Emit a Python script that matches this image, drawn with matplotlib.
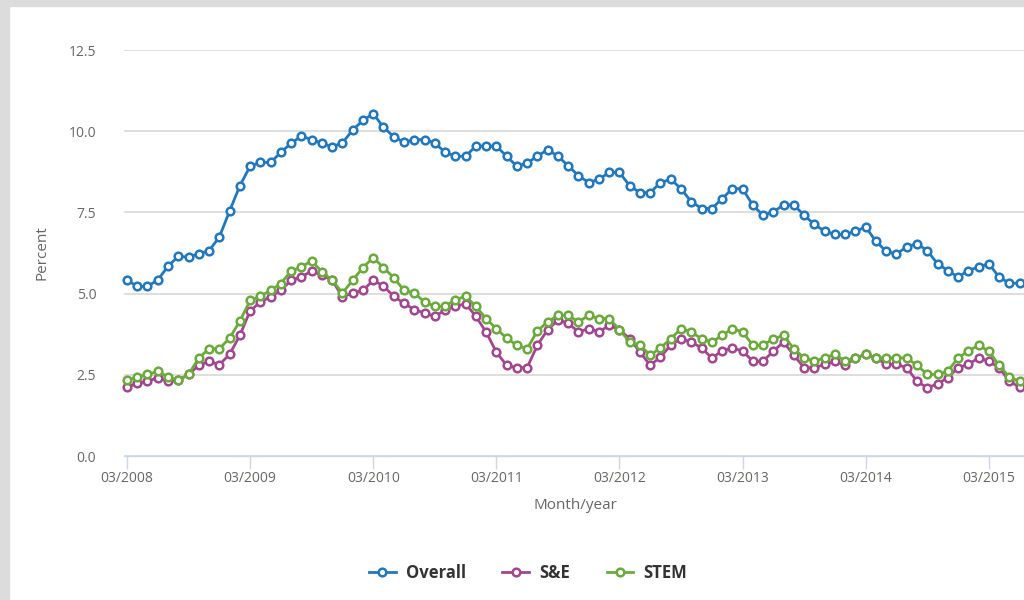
import matplotlib
matplotlib.use("Agg")
from matplotlib import pyplot as plt
from matplotlib.patches import Rectangle

# monthly values, 03/2008 .. 06/2015
overall = [5.42, 5.22, 5.22, 5.42, 5.84, 6.15, 6.12, 6.23, 6.32, 6.74,
           7.54, 8.32, 8.92, 9.04, 9.04, 9.35, 9.63, 9.85, 9.74, 9.63,
           9.52, 9.64, 10.04, 10.33, 10.54, 10.12, 9.83, 9.66, 9.74, 9.74,
           9.64, 9.35, 9.23, 9.23, 9.54, 9.54, 9.54, 9.23, 8.92, 9.02,
           9.23, 9.43, 9.23, 8.94, 8.63, 8.42, 8.52, 8.73, 8.73, 8.32,
           8.11, 8.11, 8.42, 8.52, 8.23, 7.83, 7.62, 7.62, 7.92, 8.23,
           8.23, 7.72, 7.41, 7.52, 7.73, 7.73, 7.41, 7.13, 6.92, 6.82,
           6.82, 6.92, 7.05, 6.61, 6.30, 6.22, 6.44, 6.54, 6.32, 5.92,
           5.71, 5.51, 5.71, 5.82, 5.92, 5.51, 5.32, 5.32]
s_and_e = [2.12, 2.24, 2.30, 2.41, 2.30, 2.33, 2.51, 2.79, 2.92, 2.81,
           3.13, 3.71, 4.47, 4.74, 4.90, 5.10, 5.41, 5.51, 5.70, 5.57,
           5.41, 4.90, 5.02, 5.10, 5.41, 5.23, 4.92, 4.70, 4.51, 4.40,
           4.30, 4.49, 4.61, 4.69, 4.30, 3.82, 3.20, 2.79, 2.72, 2.72,
           3.41, 3.89, 4.18, 4.09, 3.82, 3.92, 3.82, 4.02, 3.89, 3.61,
           3.20, 2.79, 3.05, 3.41, 3.61, 3.51, 3.33, 3.02, 3.23, 3.33,
           3.23, 2.92, 2.92, 3.23, 3.51, 3.10, 2.72, 2.72, 2.82, 2.92,
           2.79, 3.02, 3.13, 3.02, 2.82, 2.82, 2.72, 2.30, 2.10, 2.22,
           2.41, 2.72, 2.82, 3.02, 2.92, 2.72, 2.30, 2.12]
stem = [2.33, 2.43, 2.51, 2.61, 2.43, 2.33, 2.51, 3.02, 3.30, 3.30,
        3.63, 4.15, 4.79, 4.92, 5.10, 5.31, 5.70, 5.82, 6.01, 5.67,
        5.41, 5.02, 5.41, 5.80, 6.11, 5.80, 5.49, 5.10, 5.02, 4.74,
        4.61, 4.61, 4.81, 4.92, 4.61, 4.23, 3.92, 3.63, 3.41, 3.30,
        3.85, 4.13, 4.33, 4.33, 4.13, 4.33, 4.23, 4.23, 3.89, 3.51,
        3.41, 3.10, 3.33, 3.61, 3.92, 3.82, 3.61, 3.51, 3.71, 3.92,
        3.82, 3.41, 3.41, 3.61, 3.71, 3.30, 3.02, 2.92, 3.02, 3.13,
        2.92, 3.02, 3.13, 3.02, 3.02, 3.02, 3.02, 2.79, 2.51, 2.51,
        2.61, 3.02, 3.23, 3.41, 3.23, 2.79, 2.43, 2.30]

tick_pos = [0, 12, 24, 36, 48, 60, 72, 84]
tick_labels = ["03/2008", "03/2009", "03/2010", "03/2011",
               "03/2012", "03/2013", "03/2014", "03/2015"]
y_ticks = [0.0, 2.5, 5.0, 7.5, 10.0, 12.5]

series = [("Overall", overall, "#1f78c1"),
          ("S&E", s_and_e, "#a4468f"),
          ("STEM", stem, "#6aab3b")]

plt.rcParams['font.family'] = ['Open Sans', 'DejaVu Sans']

fig = plt.figure(figsize=(10.24, 6), dpi=100)
fig.set_facecolor('white')

# grey frame of the screenshot
fig.patches.append(Rectangle((0, 0), 9 / 1024, 1, transform=fig.transFigure,
                             color='#dcdcdc', zorder=0))
fig.patches.append(Rectangle((0, 1 - 6 / 600), 1, 6 / 600, transform=fig.transFigure,
                             color='#dcdcdc', zorder=0))

ax = fig.add_axes([124 / 1024, 144 / 600, 900 / 1024, 406 / 600])
ax.set_facecolor('none')

x = list(range(len(overall)))
for name, vals, col in series:
    ax.plot(x, vals, color=col, linewidth=2, marker='o', markersize=5.5,
            markerfacecolor='white', markeredgecolor=col, markeredgewidth=1.8,
            label=name, clip_on=False, zorder=3)

ax.set_xlim(-0.29, 87.43)
ax.set_ylim(0, 12.5)
ax.set_yticks(y_ticks)
ax.set_yticklabels([f"{v:.1f}" for v in y_ticks])
ax.set_xticks(tick_pos)
ax.set_xticklabels(tick_labels)

for s in ['top', 'right', 'left']:
    ax.spines[s].set_visible(False)
ax.spines['bottom'].set_color('#ccd6eb')
ax.spines['bottom'].set_linewidth(1)

ax.yaxis.grid(True, color='#d8d8d8', linewidth=1.2)
ax.set_axisbelow(True)
ax.tick_params(axis='y', length=0, pad=20, labelsize=10, labelcolor='#666666')
ax.tick_params(axis='x', length=9, width=1, color='#ccd6eb', pad=2,
               labelsize=10, labelcolor='#666666')

ax.set_ylabel("Percent", color='#666666', fontsize=11, labelpad=14)
ax.set_xlabel("Month/year", color='#666666', fontsize=11, labelpad=14)
ax.xaxis.set_label_coords((575 - 124) / 900, -42 / 406)

leg = fig.legend(loc='center', bbox_to_anchor=(528 / 1024, 1 - 573 / 600), ncol=3,
                 frameon=False, handlelength=1.6, handletextpad=0.6,
                 columnspacing=2.2, prop={'size': 12, 'weight': 'bold'})
for t in leg.get_texts():
    t.set_color('#333333')

fig.savefig("out.png", dpi=100)
